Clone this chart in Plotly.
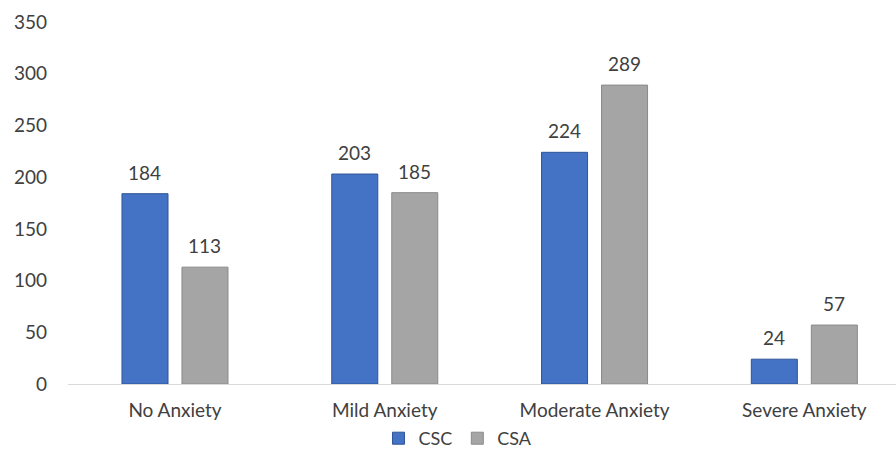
import plotly.graph_objects as go

categories = ["No Anxiety", "Mild Anxiety", "Moderate Anxiety", "Severe Anxiety"]
csc = [184, 203, 224, 24]
csa = [113, 185, 289, 57]
y_ticks = [0, 50, 100, 150, 200, 250, 300, 350]

FONT = "Lato, 'Open Sans', sans-serif"
TXT = "#404040"
FS = 19

fig = go.Figure()
fig.add_trace(go.Bar(name="CSC", x=categories, y=csc,
                     marker=dict(color="#4472C4", line=dict(color="#2F5597", width=1))))
fig.add_trace(go.Bar(name="CSA", x=categories, y=csa,
                     marker=dict(color="#A5A5A5", line=dict(color="#8A8A8A", width=1))))

for vals, shift in ((csc, -30), (csa, 30)):
    for c, v in zip(categories, vals):
        fig.add_annotation(x=c, y=v, text=str(v), showarrow=False, xshift=shift,
                           yanchor="bottom", yshift=8,
                           font=dict(size=FS, color=TXT, family=FONT))

fig.update_layout(
    width=896, height=457,
    margin=dict(l=68, r=0, t=22, b=73),
    plot_bgcolor="white", paper_bgcolor="white",
    barmode="group", bargap=0.428, bargroupgap=0.233,
    font=dict(family=FONT, size=FS, color=TXT),
    showlegend=True,
    legend=dict(orientation="h", x=0.471, xanchor="center", y=-0.152, yanchor="middle",
                bgcolor="rgba(0,0,0,0)",
                font=dict(size=FS - 1, color=TXT), itemwidth=30, traceorder="normal"),
    xaxis=dict(range=[-0.510, 3.437], showgrid=False, showline=True, linecolor="#D9D9D9",
               linewidth=1, ticks="", ticklabelstandoff=9,
               tickfont=dict(size=FS, color=TXT, family=FONT)),
    yaxis=dict(range=[0, 350], tickvals=y_ticks, showgrid=False, zeroline=False,
               showline=False, ticks="", ticklabelstandoff=20,
               tickfont=dict(size=FS, color=TXT, family=FONT)),
)

fig.write_html("out.html")
